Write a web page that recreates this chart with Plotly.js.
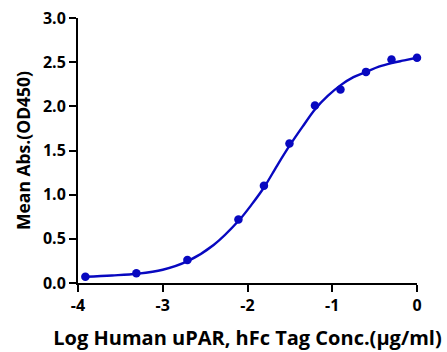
<!DOCTYPE html>
<html>
<head>
<meta charset="utf-8">
<script src="https://cdn.plot.ly/plotly-3.0.1.min.js"></script>
<style>
  html, body { margin: 0; padding: 0; background: #ffffff; }
  #chart { width: 447px; height: 352px; }
</style>
</head>
<body>
<div id="chart"></div>
<script>
// Measured data points (log concentration, mean OD450)
const logConc = [-3.913, -3.311, -2.709, -2.107, -1.806, -1.505, -1.204, -0.903, -0.602, -0.301, 0.0];
const meanAbs = [0.07, 0.11, 0.26, 0.72, 1.10, 1.58, 2.01, 2.19, 2.39, 2.53, 2.55];

// Fitted curve
const curveX = [-3.913, -3.6, -3.3, -3.0, -2.7, -2.4, -2.1, -1.95, -1.8, -1.65, -1.5, -1.35, -1.2, -1.05, -0.9, -0.75, -0.6, -0.45, -0.3, -0.15, 0.0];
const curveY = [0.07, 0.085, 0.105, 0.15, 0.25, 0.43, 0.71, 0.89, 1.09, 1.33, 1.56, 1.77, 1.97, 2.12, 2.24, 2.33, 2.39, 2.45, 2.49, 2.52, 2.55];

const xTicks = [-4, -3, -2, -1, 0];
const yTicks = [0, 0.5, 1.0, 1.5, 2.0, 2.5, 3.0];

const blue = '#0808c0';
const font = '"Open Sans", "Noto Sans", sans-serif';

const traces = [
  {
    x: curveX, y: curveY, mode: 'lines', type: 'scatter',
    line: { color: blue, width: 2.4, shape: 'spline', smoothing: 1 },
    hoverinfo: 'skip', cliponaxis: false
  },
  {
    x: logConc, y: meanAbs, mode: 'markers', type: 'scatter',
    marker: { color: blue, size: 8.5 },
    cliponaxis: false
  }
];

const layout = {
  width: 447, height: 352,
  margin: { l: 78, r: 30, t: 18, b: 69 },
  paper_bgcolor: '#ffffff', plot_bgcolor: '#ffffff',
  showlegend: false,
  font: { family: font, color: '#000000' },
  xaxis: {
    range: [-4, 0],
    tickvals: xTicks,
    ticktext: xTicks.map(v => '<b>' + String(v) + '</b>'),
    ticks: 'outside', ticklen: 7, tickwidth: 2, tickcolor: '#000',
    showline: true, linewidth: 2, linecolor: '#000',
    showgrid: false, zeroline: false,
    tickfont: { family: font, size: 16, color: '#000' },
    title: { text: '<b>Log Human uPAR, hFc Tag Conc.(µg/ml)</b>', font: { family: font, size: 20, color: '#000' }, standoff: 16 }
  },
  yaxis: {
    range: [0, 3],
    tickvals: yTicks,
    ticktext: yTicks.map(v => '<b>' + v.toFixed(1) + '</b>'),
    ticks: 'outside', ticklen: 7, tickwidth: 2, tickcolor: '#000',
    showline: true, linewidth: 2, linecolor: '#000',
    showgrid: false, zeroline: false,
    tickfont: { family: font, size: 16, color: '#000' },
    title: { text: '<b>Mean Abs.(OD450)</b>', font: { family: font, size: 17.5, color: '#000' }, standoff: 8 }
  }
};

Plotly.newPlot('chart', traces, layout, { displayModeBar: false, staticPlot: true });
</script>
</body>
</html>
